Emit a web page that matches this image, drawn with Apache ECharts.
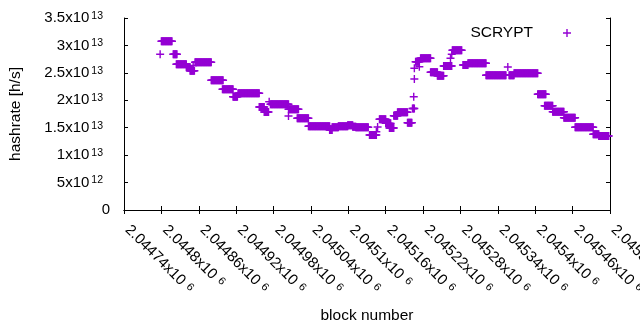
<!DOCTYPE html>
<html>
<head>
<meta charset="utf-8">
<script src="https://cdn.jsdelivr.net/npm/echarts@6/dist/echarts.min.js"></script>
<style>
  html, body { margin: 0; padding: 0; background: #fff; }
  #chart { width: 640px; height: 330px; }
</style>
</head>
<body>
<div id="chart"></div>
<script>
// runs of blocks with the same hashrate, first block / last block / value
var runStart = [2044798, 2044800, 2044819, 2044824, 2044840, 2044846, 2044851, 2044854, 2044880, 2044898,
                2044915, 2044923, 2044957, 2044965, 2044973, 2044975, 2045004, 2045004, 2045018, 2045036,
                2045070, 2045074, 2045084, 2045099, 2045107, 2045112, 2045134, 2045145, 2045147, 2045150,
                2045160, 2045166, 2045173, 2045179, 2045195, 2045203, 2045205, 2045206, 2045206, 2045208,
                2045214, 2045216, 2045232, 2045243, 2045253, 2045264, 2045266, 2045267, 2045284, 2045292,
                2045321, 2045356, 2045358, 2045366, 2045404, 2045415, 2045428, 2045446, 2045464, 2045493,
                2045502]
var runEnd   = [2044798, 2044817, 2044825, 2044840, 2044846, 2044853, 2044851, 2044880, 2044899, 2044915,
                2044922, 2044957, 2044965, 2044972, 2044973, 2045004, 2045004, 2045020, 2045036, 2045070,
                2045074, 2045084, 2045099, 2045107, 2045112, 2045132, 2045145, 2045145, 2045147, 2045160,
                2045168, 2045173, 2045179, 2045195, 2045202, 2045206, 2045205, 2045206, 2045206, 2045214,
                2045214, 2045232, 2045243, 2045253, 2045266, 2045264, 2045266, 2045282, 2045292, 2045321,
                2045353, 2045356, 2045366, 2045404, 2045417, 2045428, 2045446, 2045464, 2045493, 2045502,
                2045518]
var runHash  = [2.838e13, 3.075e13, 2.838e13, 2.656e13, 2.601e13, 2.539e13, 2.634e13, 2.692e13, 2.364e13, 2.200e13,
                2.065e13, 2.127e13, 1.878e13, 1.786e13, 1.974e13, 1.927e13, 1.714e13, 1.836e13, 1.672e13, 1.526e13,
                1.458e13, 1.508e13, 1.526e13, 1.544e13, 1.518e13, 1.508e13, 1.367e13, 1.427e13, 1.513e13, 1.653e13,
                1.580e13, 1.495e13, 1.719e13, 1.781e13, 1.591e13, 1.850e13, 2.065e13, 2.388e13, 2.583e13, 2.703e13,
                2.612e13, 2.765e13, 2.510e13, 2.448e13, 2.625e13, 2.765e13, 2.838e13, 2.911e13, 2.643e13, 2.674e13,
                2.457e13, 2.607e13, 2.455e13, 2.492e13, 2.109e13, 1.901e13, 1.792e13, 1.683e13, 1.508e13, 1.380e13,
                1.349e13]

var xMin = 2044740, xMax = 2045520, xStep = 60
var yMin = 0, yMax = 3.5e13, yStep = 5e12

var seriesName = 'SCRYPT'
var plusPath = 'path://M3.3,0H4.7V3.3H8V4.7H4.7V8H3.3V4.7H0V3.3H3.3Z'

// one point per block
var points = []
for (var i = 0; i < runStart.length; i++) {
    for (var b = runStart[i]; b <= runEnd[i]; b++) {
        points.push([b, runHash[i]])
    }
}

// gnuplot style "2.5x10^13"
function sci(v) {
    if (v === 0) return '0'
    var e = Math.floor(Math.log10(v) + 1e-9)
    var m = parseFloat((v / Math.pow(10, e)).toFixed(5))
    return m + 'x10{sup|' + e + '}'
}

var font = 'Liberation Sans'
var supX = { fontSize: 11, fontFamily: font, color: '#000', verticalAlign: 'top', padding: [0, 0, 0, 5] }
var supY = { fontSize: 10.5, fontFamily: font, color: '#000', verticalAlign: 'top', padding: [0, 7, 0, 2] }

var chart = echarts.init(document.getElementById('chart'), null, { renderer: 'canvas' })
var option = {
    animation: false,
    backgroundColor: '#fff',
    textStyle: { fontFamily: font },
    grid: { left: 124, right: 30, top: 18, bottom: 120, outerBoundsMode: 'none', containLabel: false },
    legend: {
        right: 64,
        top: 20,
        align: 'right',
        itemWidth: 58,
        itemHeight: 8,
        icon: plusPath,
        textStyle: { fontSize: 15.5, fontFamily: font, color: '#000', lineHeight: 16 },
        data: [seriesName]
    },
    xAxis: [{
        type: 'value',
        min: xMin, max: xMax, interval: xStep,
        name: 'block number',
        nameLocation: 'middle',
        nameGap: 98,
        nameTextStyle: { fontSize: 15.5, fontFamily: font, color: '#000' },
        axisLine: { lineStyle: { color: '#000', width: 1 } },
        axisTick: { inside: true, length: 4, lineStyle: { color: '#000' } },
        splitLine: { show: false },
        axisLabel: {
            rotate: -45,
            margin: 14,
            padding: [0, 0, 0, 5],
            fontSize: 15,
            fontFamily: font,
            color: '#000',
            showMinLabel: true,
            showMaxLabel: true,
            hideOverlap: false,
            formatter: sci,
            rich: { sup: supX }
        }
    }, {
        type: 'value',
        position: 'top',
        min: xMin, max: xMax, interval: xStep,
        axisLine: { lineStyle: { color: '#000', width: 1 } },
        axisTick: { inside: true, length: 4, lineStyle: { color: '#000' } },
        axisLabel: { show: false },
        splitLine: { show: false }
    }],
    yAxis: [{
        type: 'value',
        min: yMin, max: yMax, interval: yStep,
        name: 'hashrate [h/s]',
        nameLocation: 'middle',
        nameGap: 100,
        nameTextStyle: { fontSize: 15.5, fontFamily: font, color: '#000' },
        axisLine: { show: true, lineStyle: { color: '#000', width: 1 } },
        axisTick: { show: true, inside: true, length: 4, lineStyle: { color: '#000' } },
        splitLine: { show: false },
        axisLabel: {
            margin: 14,
            fontSize: 15,
            fontFamily: font,
            color: '#000',
            formatter: sci,
            rich: { sup: supY }
        }
    }, {
        type: 'value',
        position: 'right',
        min: yMin, max: yMax, interval: yStep,
        axisLine: { show: true, lineStyle: { color: '#000', width: 1 } },
        axisTick: { show: true, inside: true, length: 4, lineStyle: { color: '#000' } },
        axisLabel: { show: false },
        splitLine: { show: false }
    }],
    series: [{
        name: seriesName,
        type: 'scatter',
        xAxisIndex: 0,
        yAxisIndex: 0,
        symbol: plusPath,
        symbolSize: 8,
        itemStyle: { color: '#9400d3', opacity: 1 },
        data: points
    }]
}
chart.setOption(option)
</script>
</body>
</html>
